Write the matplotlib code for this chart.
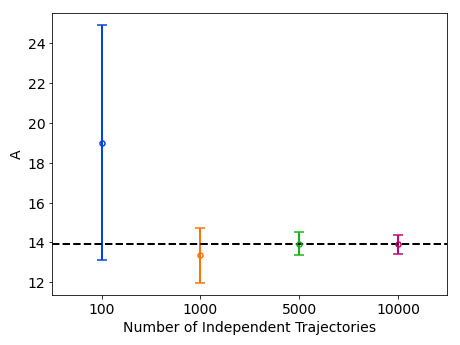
import matplotlib
matplotlib.use("Agg")
import matplotlib.pyplot as plt

# data
n_traj = ["100", "1000", "5000", "10000"]
a_mean = [19.0, 13.35, 13.93, 13.9]
a_err = [5.9, 1.37, 0.59, 0.48]
colors = ["xkcd:blue", "xkcd:orange", "xkcd:green", "xkcd:magenta"]
a_ref = 13.9

fig, ax = plt.subplots(figsize=(6.4, 4.8), dpi=72)

for i in range(len(n_traj)):
    ax.errorbar(i, a_mean[i], yerr=a_err[i], color=colors[i], marker="o",
                mfc="none", ms=5, mew=1.5, elinewidth=2, capsize=5, capthick=2)

ax.axhline(a_ref, color="black", linestyle="--", linewidth=2)

ax.set_xticks(range(len(n_traj)))
ax.set_xticklabels(n_traj)
ax.set_xlim(-0.5, 3.5)
ax.set_ylim(11.35, 25.55)
ax.set_yticks([12, 14, 16, 18, 20, 22, 24])
ax.tick_params(labelsize=14)
ax.set_xlabel("Number of Independent Trajectories", fontsize=14)
ax.set_ylabel("A", fontsize=14)

fig.subplots_adjust(left=0.1135, right=0.971, bottom=0.1445, top=0.962)
fig.savefig("out.png", dpi=72)
